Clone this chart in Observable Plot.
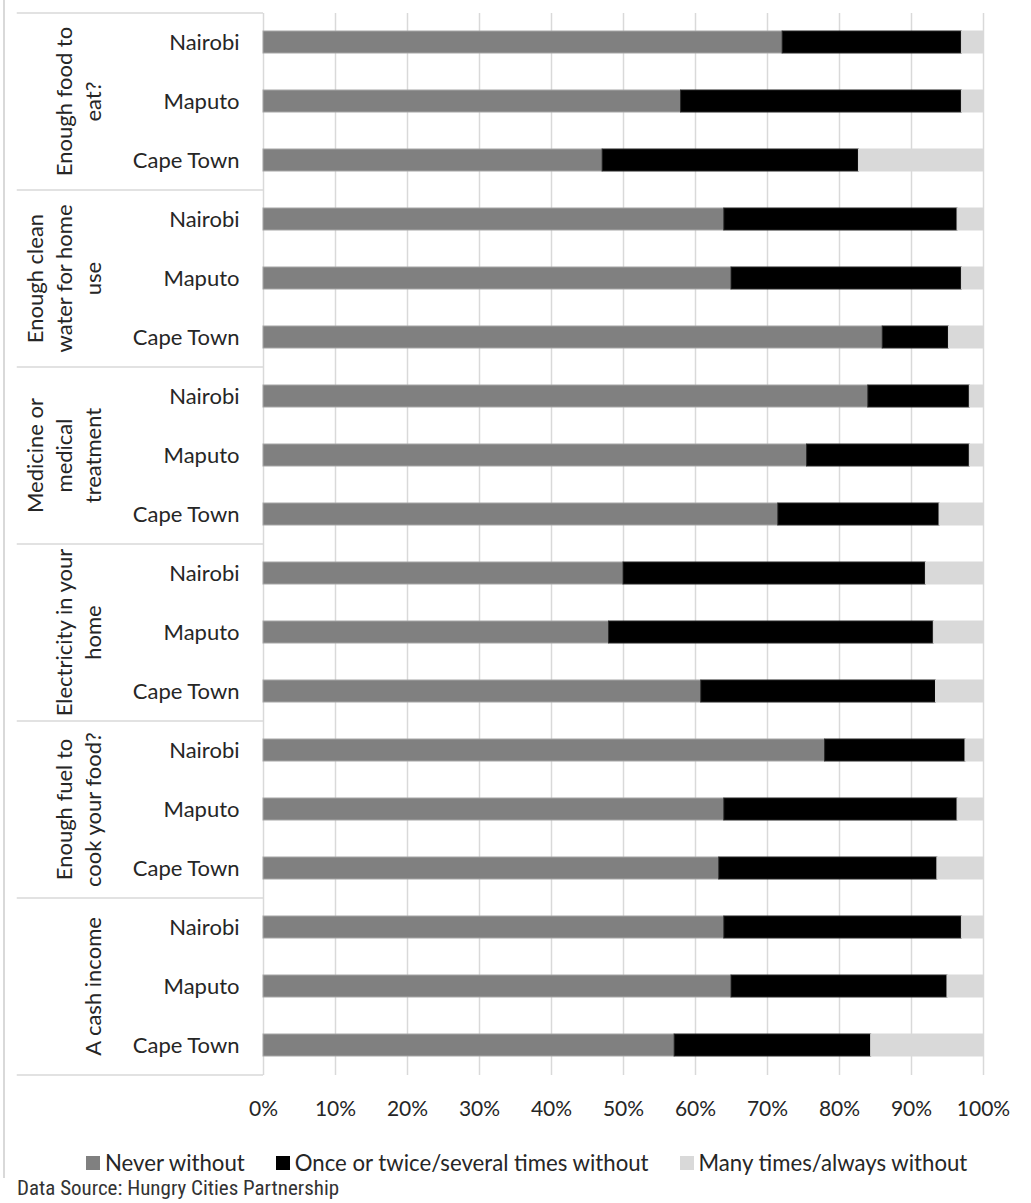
<!DOCTYPE html>
<html>
<head>
<meta charset="utf-8">
<script src="https://cdn.jsdelivr.net/npm/d3@7"></script>
<script src="https://cdn.jsdelivr.net/npm/@observablehq/plot@0.6"></script>
<style>
  body { margin: 0; background: #fff; }
  #wrap { position: relative; width: 1031px; height: 1203px; overflow: hidden; background: #fff; }
  #chart { position: absolute; left: 0; top: 0; }
  #border { position: absolute; left: 3px; top: 0; width: 2px; height: 1178px; background: #d9d9d9; }
  #legend { position: absolute; left: 86px; top: 1152px; }
  #legend .lg-swatches { min-height: 0 !important; margin: 0 !important; line-height: 1 !important; }
  #legend .lg-swatch { margin-right: 31px !important; line-height: 1 !important; }
  #legend .lg-swatch > svg { margin-right: 5px !important; }
  #source { position: absolute; left: 17px; top: 1178px; font-family: "Liberation Sans Narrow", "Roboto Condensed", "DejaVu Sans Condensed", sans-serif; font-size: 21px; line-height: 1; color: #333; white-space: nowrap; }
</style>
</head>
<body>
<div id="wrap">
  <div id="chart"></div>
  <div id="border"></div>
  <div id="legend"></div>
  <div id="source">Data Source: Hungry Cities Partnership</div>
</div>
<script>
// ---- Data ----
const groups = [
  "Enough food to eat?",
  "Enough clean water for home use",
  "Medicine or medical treatment",
  "Electricity in your home",
  "Enough fuel to cook your food?",
  "A cash income"
];
const groupLines = [
  ["Enough food to", "eat?"],
  ["Enough clean", "water for home", "use"],
  ["Medicine or", "medical", "treatment"],
  ["Electricity in your", "home"],
  ["Enough fuel to", "cook your food?"],
  ["A cash income"]
];
const cities = ["Nairobi", "Maputo", "Cape Town"];
const series = ["Never without", "Once or twice/several times without", "Many times/always without"];
const seriesColors = ["#808080", "#000000", "#d9d9d9"];
// one value per row, in order: group by group, Nairobi, Maputo, Cape Town
const neverWithout = [72.1, 58.0, 47.1, 64.0, 65.0, 86.0, 84.0, 75.5, 71.5, 50.0, 48.0, 60.8, 78.0, 64.0, 63.3, 64.0, 65.0, 57.1];
const onceOrTwice  = [24.9, 39.0, 35.6, 32.4, 32.0, 9.2, 14.1, 22.6, 22.4, 42.0, 45.1, 32.6, 19.5, 32.4, 30.3, 33.0, 30.0, 27.3];
const manyTimes    = [3.0, 3.0, 17.3, 3.6, 3.0, 4.8, 1.9, 1.9, 6.1, 8.0, 6.9, 6.6, 2.5, 3.6, 6.4, 3.0, 5.0, 15.6];
const xTicks = [0, 10, 20, 30, 40, 50, 60, 70, 80, 90, 100];

// ---- Build tables ----
const keys = groups.flatMap(g => cities.map(c => g + "|" + c));
const values = [neverWithout, onceOrTwice, manyTimes];
const data = keys.flatMap((k, i) => series.map((s, j) => ({key: k, series: s, value: values[j][i]})));
const groupData = groups.map((g, j) => ({
  group: g,
  label: groupLines[j].join("\n"),
  top: keys[j * 3],
  mid: keys[j * 3 + 1],
  bottom: keys[j * 3 + 2]
}));

const W = 1031, H = 1135, mTop = 13, mBottom = 60, mLeft = 263, mRight = 48;
const step = (H - mTop - mBottom) / keys.length;
const gridStyle = {stroke: "#d9d9d9", strokeOpacity: 1, strokeWidth: 1.5};
const barBorder = {"Never without": "#a6a6a6", "Once or twice/several times without": "#262626", "Many times/always without": "#d9d9d9"};

const plot = Plot.plot({
  width: W,
  height: H,
  marginTop: mTop,
  marginBottom: mBottom,
  marginLeft: mLeft,
  marginRight: mRight,
  style: {fontFamily: "Lato, sans-serif", fontSize: "22px", color: "#262626", background: "white"},
  x: {domain: [0, 100], label: null},
  y: {domain: keys, paddingInner: 0.62, paddingOuter: 0.31, label: null},
  color: {domain: series, range: seriesColors},
  marks: [
    Plot.gridX(xTicks, gridStyle),
    Plot.barX(data, {x: "value", y: "key", fill: "series", stroke: d => barBorder[d.series], strokeWidth: 1}),
    Plot.axisX(xTicks, {tickSize: 0, tickPadding: 26, tickFormat: d => d + "%", label: null, fontSize: 21}),
    Plot.axisY({tickSize: 0, tickPadding: 24, tickFormat: k => k.split("|")[1], label: null}),
    // group separators in the label area
    Plot.ruleY(groupData, {y: "top", dy: -step / 2, x1: -34.2, x2: 0, ...gridStyle}),
    Plot.ruleY(groupData.slice(-1), {y: "bottom", dy: step / 2, x1: -34.2, x2: 0, ...gridStyle}),
    // rotated group labels
    Plot.text(groupData, {
      y: "mid",
      text: "label",
      frameAnchor: "left",
      dx: -163,
      rotate: -90,
      textAnchor: "middle",
      lineAnchor: "bottom",
      lineHeight: 1.3,
      fill: "#262626"
    })
  ]
});
document.getElementById("chart").appendChild(plot);

const legend = plot.legend("color", {
  swatchSize: 14,
  className: "lg",
  style: {fontFamily: "Lato, sans-serif", fontSize: "22.2px", color: "#262626", lineHeight: "1"}
});
document.getElementById("legend").appendChild(legend);
</script>
</body>
</html>
